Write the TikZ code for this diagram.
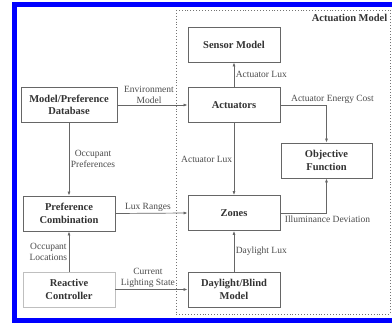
\documentclass[tikz,border=0pt]{standalone}
\usepackage{fontspec}
\setmainfont{Liberation Serif}
\usetikzlibrary{arrows.meta,calc}

\begin{document}
\begin{tikzpicture}[x=1pt,y=-1pt,
  blk/.style={draw=black!60,line width=0.8pt,text=black!80,font=\fontsize{10.5}{12.6}\selectfont\bfseries,
    align=center,minimum width=92pt,minimum height=35pt,inner sep=1pt},
  lbl/.style={text=black!70,font=\fontsize{9.5}{11}\selectfont,align=center,inner sep=1.5pt},
  flow/.style={draw=black!60,line width=0.7pt,-{Latex[length=4pt,width=3pt]}}]
\useasboundingbox (0,0) rectangle (392,326);
\fill[white] (0,0) rectangle (392,326);
% frame round the window
\draw[blue,line width=5.5pt] (392,4.5) -- (14.5,4.5) -- (14.5,320.5) -- (392,320.5);
% actuation model
\draw[black!55,line width=0.9pt,dotted] (176,10) rectangle (390,314);
\node[lbl,anchor=north east,text=black!80,font=\fontsize{10.5}{12.6}\selectfont\bfseries] (am) at (389,13) {Actuation Model};

\node[blk,minimum width=96pt] (db) at (69,105) {Model/Preference\\Database};
\node[blk] (pref) at (69,213.5) {Preference\\Combination};
\node[blk,draw=black!25] (react) at (69,289.5) {Reactive\\Controller};
\node[blk] (sensor) at (234,44.5) {Sensor Model};
\node[blk] (act) at (234,105) {Actuators};
\node[blk] (zones) at (234,213) {Zones};
\node[blk] (day) at (234,289.5) {Daylight/Blind\\Model};
\node[blk,minimum width=91pt] (obj) at (326.5,160.5) {Objective\\Function};

\draw[flow] (db.east) -- (act.west) node[lbl,pos=0.45,above] {Environment\\Model};
\draw[flow] (db.south) -- (pref.north) node[lbl,midway,right] {Occupant\\Preferences};
\draw[flow] (pref.east) -- (zones.west) node[lbl,pos=0.45,above] {Lux Ranges};
\draw[flow] (react.north) -- (pref.south) node[lbl,midway,left] {Occupant\\Locations};
\draw[flow] (react.east) -- (day.west) node[lbl,pos=0.45,above] {Current\\Lighting State};
\draw[flow] (act.north) -- (sensor.south) node[lbl,midway,right] {Actuator Lux};
\draw[flow] (act.south) -- (zones.north) node[lbl,midway,left] {Actuator Lux};
\draw[flow] (day.north) -- (zones.south) node[lbl,midway,right] {Daylight Lux};
\draw[flow] (act.east) -- (act.east -| obj.north) node[lbl,above,xshift=6pt] {Actuator Energy Cost} -- (obj.north);
\draw[flow] (zones.east) -- (zones.east -| obj.south) node[lbl,below,xshift=1pt,yshift=-1pt] {Illuminance Deviation} -- (obj.south);
\end{tikzpicture}
\end{document}
